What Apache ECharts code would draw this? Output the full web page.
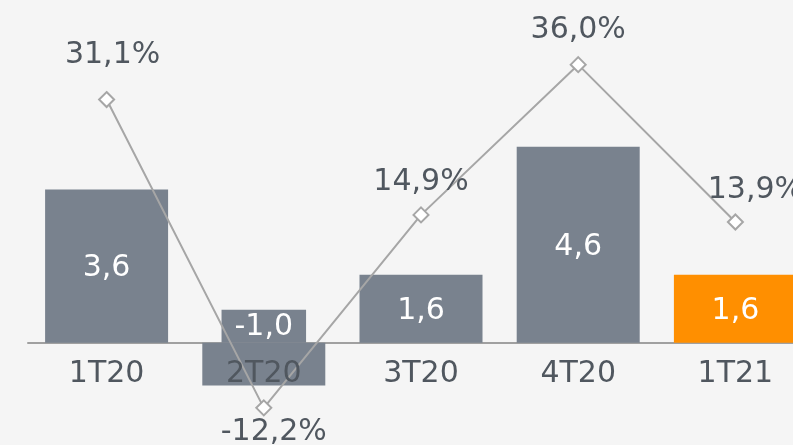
<!DOCTYPE html>
<html>
<head>
<meta charset="utf-8">
<script src="https://cdn.jsdelivr.net/npm/echarts@6/dist/echarts.min.js"></script>
<style>
  html, body { margin: 0; padding: 0; background: #f5f5f5; }
  #chart { width: 793px; height: 445px; }
</style>
</head>
<body>
<div id="chart"></div>
<script>
// quarters
const categories = ['1T20', '2T20', '3T20', '4T20', '1T21'];
// bar values (left axis)
const barValues = [3.6, -1.0, 1.6, 4.6, 1.6];
// line values in % (right axis)
const lineValues = [31.1, -12.2, 14.9, 36.0, 13.9];

const GRAY = '#79828e';
const ORANGE = '#ff8f00';
const TEXT = '#50575f';

const fmt = (v, d) => v.toFixed(d).replace('.', ',');

const chart = echarts.init(document.getElementById('chart'));

// label tweaks per point (the original is not perfectly regular)
const lineLabelTweaks = [
  { position: 'top', distance: 20, offset: [6, 0] },
  { position: 'bottom', distance: 0, offset: [10, 0] },
  { position: 'top', distance: 8, offset: [0, 0] },
  { position: 'top', distance: 10, offset: [0, 0] },
  { position: 'top', distance: 7, offset: [20, 0] }
];

const option = {
  backgroundColor: '#f5f5f5',
  animation: false,
  textStyle: { fontFamily: 'DejaVu Sans' },
  grid: { left: 28, width: 786, top: 2, height: 426, outerBoundsMode: 'none', containLabel: false },
  xAxis: [
    {
      type: 'category',
      data: categories,
      z: 0,
      axisLine: { lineStyle: { color: '#a0a0a0', width: 2 } },
      axisTick: { show: false },
      axisLabel: { show: false }
    },
    {
      type: 'category',
      data: categories,
      position: 'bottom',
      offset: -(428 - 343),
      z: 10,
      axisLine: { show: false },
      axisTick: { show: false },
      axisLabel: { color: TEXT, fontSize: 30, margin: 16 }
    }
  ],
  yAxis: [
    { type: 'value', min: -2, max: 8, show: false, splitLine: { show: false } },
    { type: 'value', min: -15.03, max: 44.8, show: false, splitLine: { show: false } }
  ],
  series: [
    {
      type: 'bar',
      barWidth: 123,
      xAxisIndex: 0,
      yAxisIndex: 0,
      z: 2,
      data: barValues.map((v, i) => ({
        value: v,
        itemStyle: { color: i === barValues.length - 1 ? ORANGE : GRAY },
        label: v < 0
          ? { position: 'top', distance: 0, backgroundColor: GRAY, padding: [3, 13, 2, 13] }
          : { position: 'inside', offset: [0, 2] }
      })),
      label: {
        show: true,
        color: '#ffffff',
        fontSize: 30,
        lineHeight: 28,
        formatter: p => fmt(p.value, 1)
      }
    },
    {
      type: 'line',
      xAxisIndex: 0,
      yAxisIndex: 1,
      z: 2,
      symbol: 'diamond',
      symbolSize: 15,
      itemStyle: { color: '#ffffff', borderColor: '#a6a6a6', borderWidth: 2 },
      lineStyle: { color: '#a6a6a6', width: 2 },
      data: lineValues.map((v, i) => ({
        value: v,
        label: lineLabelTweaks[i]
      })),
      label: {
        show: true,
        color: TEXT,
        fontSize: 30,
        lineHeight: 32,
        formatter: p => fmt(p.value, 1) + '%'
      }
    }
  ]
};

chart.setOption(option);
</script>
</body>
</html>
